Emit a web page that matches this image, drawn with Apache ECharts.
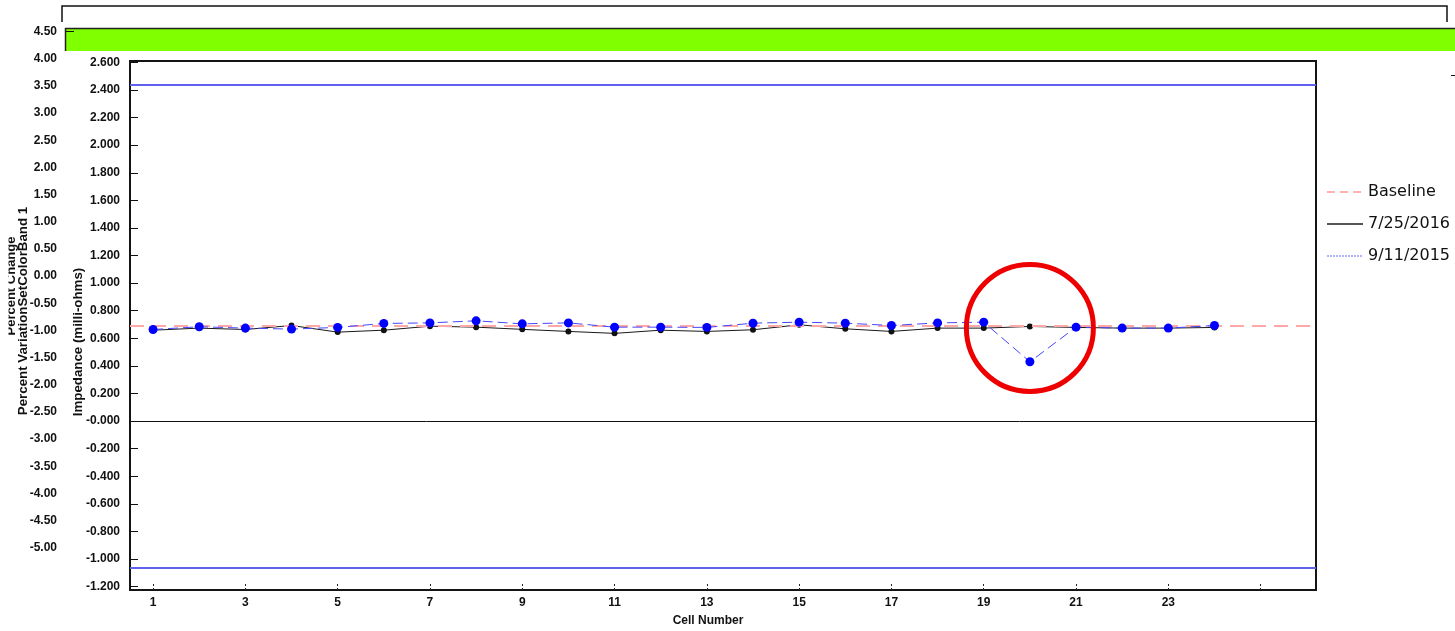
<!DOCTYPE html>
<html>
<head>
<meta charset="utf-8">
<script src="https://cdn.jsdelivr.net/npm/echarts@6/dist/echarts.min.js"></script>
<style>
  html, body { margin: 0; padding: 0; background: #ffffff; }
  #chart { width: 1455px; height: 631px; }
</style>
</head>
<body>
<div id="chart"></div>
<script>
// Cell impedance readings (milli-ohms) per cell number
const cells = [1, 2, 3, 4, 5, 6, 7, 8, 9, 10, 11, 12, 13, 14, 15, 16, 17, 18, 19, 20, 21, 22, 23, 24];
const impedance2016 = [0.659, 0.674, 0.664, 0.693, 0.645, 0.659, 0.688, 0.681, 0.665, 0.650, 0.636, 0.659,
                       0.650, 0.662, 0.698, 0.669, 0.650, 0.674, 0.674, 0.686, 0.679, 0.674, 0.674, 0.679];
const impedance2015 = [0.664, 0.684, 0.674, 0.667, 0.679, 0.708, 0.712, 0.727, 0.705, 0.712, 0.681, 0.681,
                       0.679, 0.710, 0.717, 0.710, 0.693, 0.712, 0.717, 0.430, 0.681, 0.674, 0.674, 0.693];
const baselineValue = 0.687;
const upperLimit = 2.436;
const lowerLimit = -1.061;
const flaggedCell = 20;

// Axis ticks and labels
const impedanceTickValues = [-1.2, -1.0, -0.8, -0.6, -0.4, -0.2, 0, 0.2, 0.4, 0.6, 0.8, 1.0, 1.2, 1.4, 1.6, 1.8, 2.0, 2.2, 2.4, 2.6];
const impedanceTickLabels = ['-1.200', '-1.000', '-0.800', '-0.600', '-0.400', '-0.200', '-0.000', '0.200', '0.400', '0.600',
                             '0.800', '1.000', '1.200', '1.400', '1.600', '1.800', '2.000', '2.200', '2.400', '2.600'];
const cellTickValues = [1, 3, 5, 7, 9, 11, 13, 15, 17, 19, 21, 23, 25];
const cellLabelValues = [1, 3, 5, 7, 9, 11, 13, 15, 17, 19, 21, 23];
const percentMin = -5.0;
const percentMax = 4.5;
const percentStep = 0.5;

const FONT = '"Liberation Sans", Arial, sans-serif';
const LEGEND_FONT = '"DejaVu Sans", "Liberation Sans", sans-serif';
const INK = '#111111';

const chart = echarts.init(document.getElementById('chart'), null, { renderer: 'canvas' });

function impedanceLabel(v) {
  let best = 0;
  impedanceTickValues.forEach((t, i) => {
    if (Math.abs(t - v) < Math.abs(impedanceTickValues[best] - v)) best = i;
  });
  return impedanceTickLabels[best];
}

const option = {
  backgroundColor: '#ffffff',
  animation: false,
  textStyle: { fontFamily: FONT },
  grid: [
    { // impedance plot
      left: 130, right: 139, top: 61, bottom: 41,
      show: true, backgroundColor: '#ffffff', borderColor: '#151515', borderWidth: 2
    },
    { // percent variation scale
      left: 66, right: 139, top: 31.7, bottom: 83.3, show: false
    }
  ],
  xAxis: [
    {
      gridIndex: 0, type: 'value', min: 0.5, max: 26.2,
      axisLine: { show: false, onZero: false },
      splitLine: { show: false },
      axisTick: {
        show: true, inside: true, length: 7, customValues: cellTickValues,
        lineStyle: { color: '#222', width: 1, type: [2, 2] }
      },
      axisLabel: {
        customValues: cellLabelValues, margin: 7,
        fontFamily: FONT, fontWeight: 'bold', fontSize: 12, color: INK
      }
    },
    { gridIndex: 1, type: 'value', min: 0, max: 1, show: false }
  ],
  yAxis: [
    {
      gridIndex: 0, type: 'value', min: -1.224, max: 2.61,
      axisLine: { show: false, onZero: false },
      splitLine: { show: false },
      axisTick: {
        show: true, inside: true, length: 8, customValues: impedanceTickValues,
        lineStyle: { color: '#111', width: 1 }
      },
      axisLabel: {
        customValues: impedanceTickValues, margin: 10, formatter: impedanceLabel,
        fontFamily: FONT, fontWeight: 'bold', fontSize: 12, color: INK
      }
    },
    {
      gridIndex: 1, type: 'value', min: percentMin, max: percentMax, interval: percentStep,
      axisLine: { show: false },
      axisTick: { show: false },
      splitLine: { show: false },
      axisLabel: {
        margin: 9, formatter: v => v.toFixed(2),
        fontFamily: FONT, fontWeight: 'bold', fontSize: 12, color: INK
      }
    }
  ],
  legend: {
    orient: 'vertical', left: 1321, top: 179,
    itemWidth: 36, itemHeight: 14, itemGap: 16,
    selectedMode: false,
    itemStyle: { opacity: 0 },
    textStyle: { fontFamily: LEGEND_FONT, fontSize: 16, color: INK },
    data: [
      { name: 'Baseline', lineStyle: { color: '#ffb0b0', width: 2, type: [8, 5] } },
      { name: '7/25/2016', lineStyle: { color: '#555555', width: 2, type: 'solid' } },
      { name: '9/11/2015', lineStyle: { color: '#6a6aff', width: 1, type: [2, 1] } }
    ]
  },
  series: [
    { // alarm limits and zero reference
      name: 'limits', type: 'line', xAxisIndex: 0, yAxisIndex: 0, data: [],
      silent: true, z: 1,
      markLine: {
        silent: true, symbol: 'none', label: { show: false }, animation: false,
        data: [
          { yAxis: upperLimit, lineStyle: { color: '#6060f0', width: 2, type: 'solid' } },
          { yAxis: lowerLimit, lineStyle: { color: '#6060f0', width: 2, type: 'solid' } },
          { yAxis: 0, lineStyle: { color: '#111111', width: 1, type: 'solid' } }
        ]
      }
    },
    {
      name: '7/25/2016', type: 'line', xAxisIndex: 0, yAxisIndex: 0, z: 3,
      data: cells.map((c, i) => [c, impedance2016[i]]),
      symbol: 'circle', symbolSize: 6, showSymbol: true,
      color: '#555555',
      lineStyle: { color: '#1a1a1a', width: 1 },
      itemStyle: { color: '#111111' }
    },
    {
      name: 'Baseline', type: 'line', xAxisIndex: 0, yAxisIndex: 0, data: [], z: 4,
      color: '#ffb0b0',
      lineStyle: { color: '#ffb0b0', width: 2, type: [14, 8] },
      markLine: {
        silent: true, symbol: 'none', label: { show: false }, animation: false,
        lineStyle: { color: '#ffa8a8', width: 2, type: [14, 8] },
        data: [{ yAxis: baselineValue }]
      }
    },
    {
      name: '9/11/2015', type: 'line', xAxisIndex: 0, yAxisIndex: 0, z: 5,
      data: cells.map((c, i) => [c, impedance2015[i]]),
      symbol: 'circle', symbolSize: 9, showSymbol: true,
      color: '#6a6aff',
      lineStyle: { color: '#4646ff', width: 1, type: [10, 5] },
      itemStyle: { color: '#0000ff' }
    }
  ]
};

chart.setOption(option);

// Frame, colour band and axis titles
const center = chart.convertToPixel({ gridIndex: 0 }, [flaggedCell, 0.675]);
chart.setOption({
  graphic: [
    { type: 'polyline', silent: true, z: 5,
      shape: { points: [[62, 22], [62, 6], [1447, 6], [1447, 22]] },
      style: { stroke: '#111', lineWidth: 1.5, fill: null } },
    { type: 'rect', silent: true, z: 5,
      shape: { x: 66, y: 29, width: 1389, height: 22 },
      style: { fill: '#80ff00' } },
    { type: 'line', silent: true, z: 6,
      shape: { x1: 65, y1: 28.5, x2: 1455, y2: 28.5 },
      style: { stroke: '#222', lineWidth: 1.5 } },
    { type: 'line', silent: true, z: 6,
      shape: { x1: 65.5, y1: 28, x2: 65.5, y2: 51 },
      style: { stroke: '#222', lineWidth: 1.5 } },
    { type: 'line', silent: true, z: 6,
      shape: { x1: 66, y1: 31.5, x2: 74, y2: 31.5 },
      style: { stroke: '#111', lineWidth: 1 } },
    { type: 'line', silent: true, z: 6,
      shape: { x1: 1451, y1: 75.5, x2: 1455, y2: 75.5 },
      style: { stroke: '#111', lineWidth: 1 } },
    { type: 'text', silent: true, z: 6, x: 11, y: 286, rotation: Math.PI / 2,
      style: { text: 'Percent Change', font: 'bold 13px ' + FONT, fill: INK, align: 'center', verticalAlign: 'middle' } },
    { type: 'rect', silent: true, z: 7,
      shape: { x: 0, y: 220, width: 8.5, height: 130 },
      style: { fill: '#ffffff' } },
    { type: 'text', silent: true, z: 6, x: 23, y: 311, rotation: Math.PI / 2,
      style: { text: 'Percent VariationSetColorBand 1', font: 'bold 13.3px ' + FONT, fill: INK, align: 'center', verticalAlign: 'middle' } },
    { type: 'text', silent: true, z: 6, x: 78, y: 342, rotation: Math.PI / 2,
      style: { text: 'Impedance (milli-ohms)', font: 'bold 13.3px ' + FONT, fill: INK, align: 'center', verticalAlign: 'middle' } },
    { type: 'text', silent: true, z: 6, x: 708, y: 621,
      style: { text: 'Cell Number', font: 'bold 12px ' + FONT, fill: INK, align: 'center', verticalAlign: 'middle' } },
    { type: 'circle', silent: true, z: 20,
      shape: { cx: center[0], cy: center[1], r: 63.5 },
      style: { stroke: '#ee0000', lineWidth: 5, fill: null } }
  ]
});
</script>
</body>
</html>
